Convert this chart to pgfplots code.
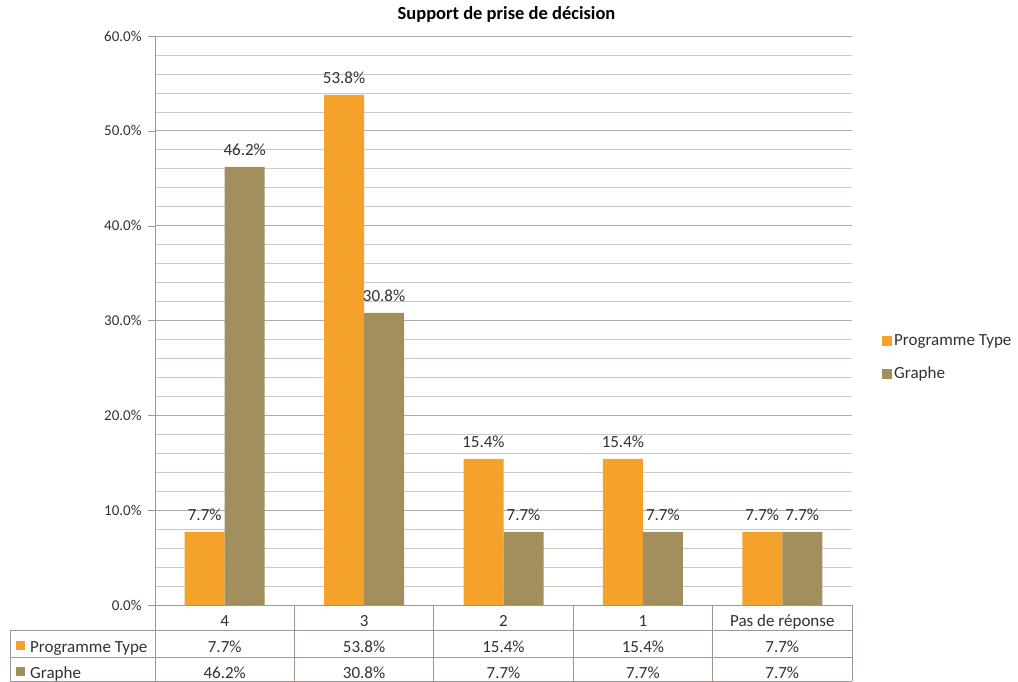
\documentclass[border=0pt]{standalone}
\usepackage{pgfplots}
\pgfplotsset{compat=1.18}
\usepackage{fontspec}
\setmainfont{Carlito}

\definecolor{progorange}{RGB}{245,162,45}
\definecolor{grapheolive}{RGB}{163,143,94}
\definecolor{gridgray}{RGB}{208,200,192}
\definecolor{tablegray}{RGB}{160,150,145}
\definecolor{txt}{RGB}{50,50,50}

\begin{document}
\begin{tikzpicture}[x=1bp, y=1bp, font=\fontsize{17bp}{20bp}\selectfont, text=txt]
\begin{axis}[
    at={(0,0)}, anchor=south west,
    scale only axis, width=697bp, height=569bp,
    xmin=-0.5, xmax=4.5, ymin=0, ymax=60,
    ybar=0pt, bar width=40bp,
    axis x line=bottom, axis y line=left,
    axis line style={-, draw=tablegray},
    xtick=\empty,
    ytick={0,10,...,60}, minor y tick num=4,
    ymajorgrids, yminorgrids,
    major grid style={draw=gridgray!85!black, line width=0.7pt},
    minor grid style={draw=gridgray, line width=0.6pt},
    major tick length=7bp, minor tick length=0pt,
    tick align=outside,
    y tick style={draw=tablegray},
    /pgf/number format/assume math mode=true,
    yticklabel={\pgfmathprintnumber[fixed,fixed zerofill,precision=1]{\tick}\%},
    yticklabel style={font=\fontsize{15bp}{18bp}\selectfont, text=txt, xshift=-3bp},
    nodes near coords={\pgfmathprintnumber[fixed,fixed zerofill,precision=1]{\pgfplotspointmeta}\%},
    nodes near coords style={font=\fontsize{17bp}{20bp}\selectfont, text=txt, anchor=base, yshift=11bp},
    title={\bfseries Support de prise de décision},
    title style={font=\fontsize{18.5bp}{22bp}\selectfont, text=black, at={(0.5,1)}, anchor=base, yshift=11bp, xshift=3bp},
    legend style={at={(1,0.435)}, anchor=west, draw=none, xshift=27bp,
        font=\fontsize{17bp}{20bp}\selectfont, row sep=16bp},
    legend cell align=left,
    legend image code/.code={\fill[#1] (0bp,-5bp) rectangle (10bp,5bp);},
    clip=false,
]
\addplot[fill=progorange, draw=none] coordinates {(0,7.7) (1,53.8) (2,15.4) (3,15.4) (4,7.7)};
\addplot[fill=grapheolive, draw=none] coordinates {(0,46.2) (1,30.8) (2,7.7) (3,7.7) (4,7.7)};
\legend{Programme Type, Graphe}
\end{axis}

% data table below the chart
\draw[tablegray, line width=0.7pt] (-145,-25) -- (697,-25);
\draw[tablegray, line width=0.7pt] (-145,-52) -- (697,-52);
\draw[tablegray, line width=0.7pt] (-145,-76.5) -- (697,-76.5);
\draw[tablegray, line width=0.7pt] (-145,-25) -- (-145,-76.5);
\foreach \i in {0,...,5} \draw[tablegray, line width=0.7pt] (\i*139.4,0) -- (\i*139.4,-76.5);

\foreach \lab [count=\k from 0] in {4,3,2,1,Pas de réponse}
  \node[anchor=base] at (69.7+\k*139.4,-21.5) {\lab};
\foreach \v [count=\k from 0] in {7.7\%,53.8\%,15.4\%,15.4\%,7.7\%}
  \node[anchor=base] at (69.7+\k*139.4,-47.5) {\v};
\foreach \v [count=\k from 0] in {46.2\%,30.8\%,7.7\%,7.7\%,7.7\%}
  \node[anchor=base] at (69.7+\k*139.4,-73.5) {\v};

\fill[progorange] (-139,-45) rectangle (-130,-36);
\fill[grapheolive] (-139,-71) rectangle (-130,-62);
\node[anchor=base west, inner sep=0pt] at (-125,-47.5) {Programme Type};
\node[anchor=base west, inner sep=0pt] at (-125,-73.5) {Graphe};

\pgfresetboundingbox
\path[use as bounding box] (-155,-77) rectangle (863,605);
\end{tikzpicture}
\end{document}
